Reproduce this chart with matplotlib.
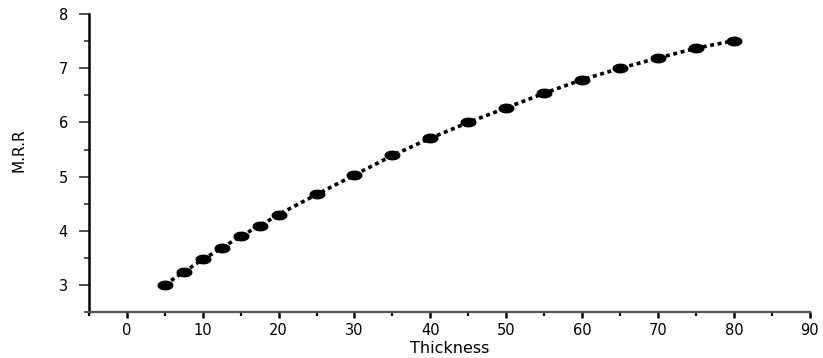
import numpy as np
import matplotlib
matplotlib.use("Agg")
import matplotlib.pyplot as plt
from matplotlib.path import Path
from matplotlib.ticker import MultipleLocator

thickness = [5, 7.5, 10, 12.5, 15, 17.5, 20, 25, 30, 35, 40, 45, 50, 55, 60, 65, 70, 75, 80]
mrr = [3.0, 3.24, 3.47, 3.68, 3.90, 4.09, 4.30, 4.67, 5.03, 5.39, 5.71, 6.0, 6.27, 6.54, 6.79, 7.0, 7.19, 7.37, 7.51]
x_ticks = [0, 10, 20, 30, 40, 50, 60, 70, 80, 90]
y_ticks = [3, 4, 5, 6, 7, 8]

plt.rcParams['font.family'] = ['DejaVu Sans']

# elliptical marker (wider than tall)
t = np.linspace(0, 2 * np.pi, 60)
verts = np.column_stack([np.cos(t), 0.58 * np.sin(t)])
ellipse = Path(verts, closed=True)

fig = plt.figure(figsize=(8.23, 3.58), dpi=100)
ax = fig.add_axes([0.108, 0.1285, 0.876, 0.832])

ax.plot(thickness, mrr, color='black', lw=2.6, linestyle=(0, (1.1, 1.0)),
        dash_capstyle='butt', zorder=2)
ax.plot(thickness, mrr, linestyle='none', marker=ellipse, markersize=10.5,
        color='black', zorder=3)

ax.set_xlim(-5, 90)
ax.set_ylim(2.5, 8)
ax.set_xticks(x_ticks)
ax.set_yticks(y_ticks)
ax.xaxis.set_minor_locator(MultipleLocator(5))
ax.yaxis.set_minor_locator(MultipleLocator(0.5))

for s in ['top', 'right']:
    ax.spines[s].set_visible(False)
ax.spines['left'].set_linewidth(1.8)
ax.spines['left'].set_color('black')
ax.spines['bottom'].set_linewidth(1.6)
ax.spines['bottom'].set_color('#555555')

ax.tick_params(axis='x', which='major', direction='out', length=4, width=1.8,
               labelsize=10.5, pad=4, color='black')
ax.tick_params(axis='x', which='minor', direction='out', length=3, width=1.6, color='black')
ax.tick_params(axis='y', which='major', direction='out', length=7, width=1.2,
               labelsize=10.5, pad=8, color='#333333')
ax.tick_params(axis='y', which='minor', direction='out', length=3.5, width=1.2, color='#333333')

ax.set_xlabel('Thickness', fontsize=11.5, labelpad=2)
ax.set_ylabel('M.R.R', fontsize=11)
ax.yaxis.set_label_coords(-0.086, 0.544)

fig.savefig('out.png', dpi=100)
